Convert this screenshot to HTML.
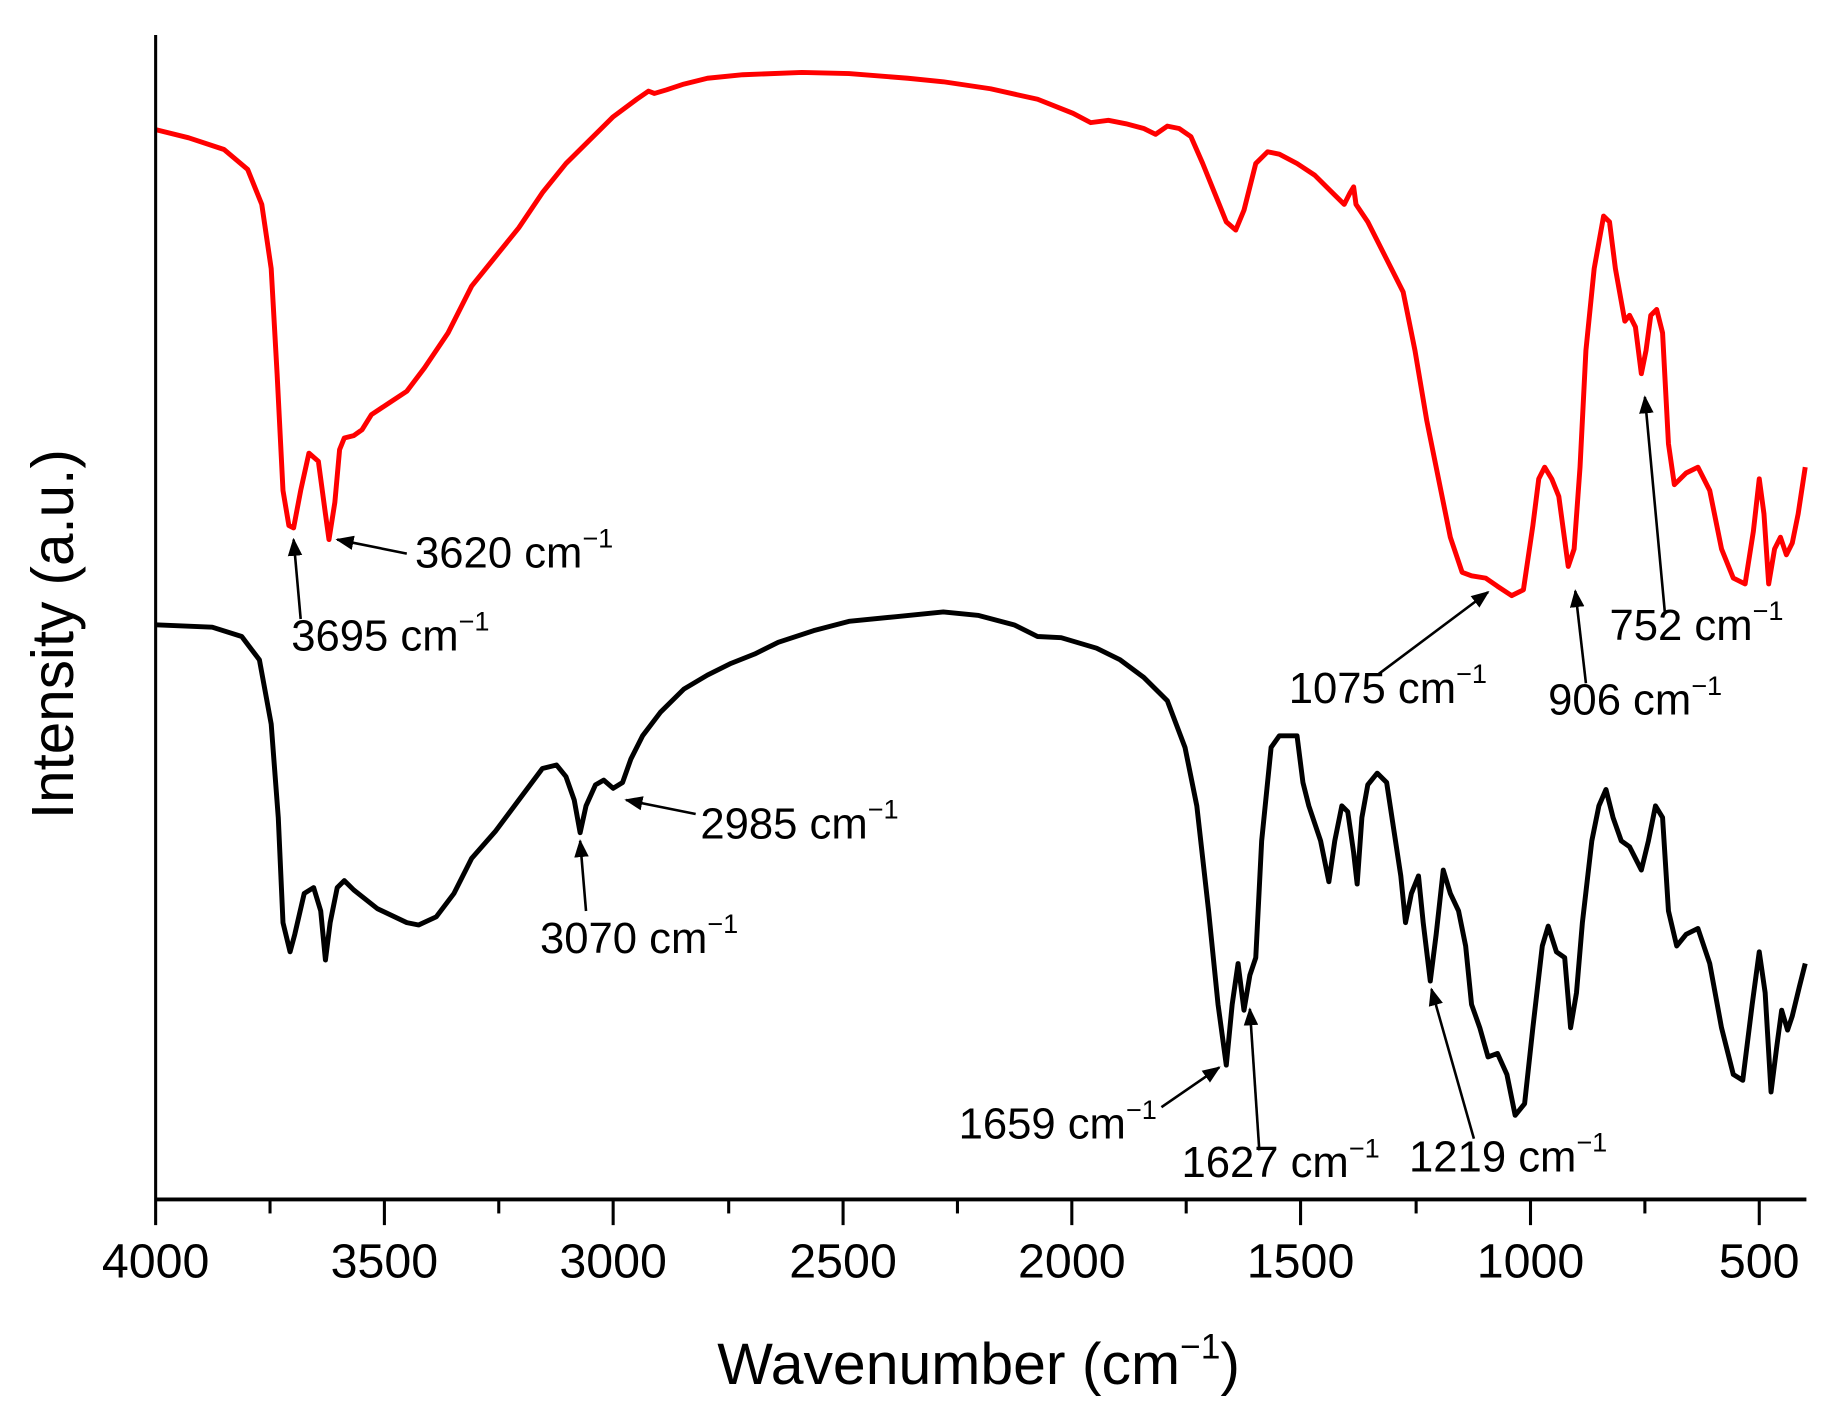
<!DOCTYPE html>
<html><head><meta charset="utf-8"><style>html,body{margin:0;padding:0;background:#fff}svg{display:block}</style></head>
<body>
<svg width="1830" height="1419" viewBox="0 0 1552 1215" preserveAspectRatio="none" xmlns="http://www.w3.org/2000/svg" font-family="Liberation Sans, Arial, sans-serif">
<defs><marker id="ah" viewBox="0 0 10 10" refX="9" refY="5" markerWidth="7" markerHeight="7" orient="auto"><path d="M0,1 L10,5 L0,9 z" fill="#000"/></marker></defs>
<rect width="1552" height="1215" fill="#fff"/>
<polyline fill="none" stroke="#f00" stroke-width="4.2" stroke-linejoin="round" points="132,111 160,118 190,128 210,145 222,175 230,230 235,320 240,420 245,450 249,452 255,420 262,388 270,395 276,440 279,462 284,430 288,385 292,375 300,373 307,368 315,355 330,345 345,335 360,315 380,285 400,245 420,220 440,195 460,165 480,140 500,120 520,100 540,85 550,78 555,80 565,77 580,72 600,67 630,64 680,62 720,63 770,67 800,70 840,76 880,85 910,97 925,105 940,103 955,106 970,110 980,115 990,108 1000,110 1010,117 1020,140 1030,165 1040,190 1048,197 1055,180 1065,140 1075,130 1085,132 1100,140 1115,150 1130,165 1140,175 1145,165 1148,160 1150,175 1160,190 1175,220 1190,250 1200,300 1210,360 1220,410 1230,460 1240,490 1248,493 1260,495 1270,502 1282,510 1292,505 1300,450 1305,410 1310,400 1316,410 1322,425 1330,485 1335,470 1340,400 1345,300 1352,230 1360,185 1365,190 1370,230 1378,275 1382,270 1387,280 1392,320 1396,300 1400,270 1405,265 1410,285 1415,380 1420,415 1430,405 1440,400 1450,420 1460,470 1470,495 1480,500 1487,455 1492,410 1496,440 1500,500 1505,470 1510,460 1515,475 1520,465 1525,440 1531,400"/>
<polyline fill="none" stroke="#000" stroke-width="4.2" stroke-linejoin="round" points="132,535 180,537 205,545 220,565 230,620 236,700 240,790 246,815 250,800 258,765 266,760 272,780 276,822 280,790 286,760 292,754 300,762 320,778 345,790 355,792 370,785 385,765 400,735 420,712 440,685 460,658 472,655 480,665 487,685 492,713 497,690 505,672 512,668 520,675 528,670 535,650 545,630 560,610 580,590 600,578 620,568 640,560 660,550 690,540 720,532 760,528 800,524 830,527 860,535 880,545 900,546 930,555 950,565 970,580 990,600 1005,640 1015,690 1025,780 1033,860 1040,912 1045,860 1050,825 1055,865 1060,835 1065,820 1070,720 1078,640 1085,630 1100,630 1105,670 1110,690 1120,720 1127,755 1132,720 1138,690 1143,695 1148,730 1151,757 1155,700 1160,672 1168,662 1176,670 1182,710 1188,750 1192,790 1197,765 1203,750 1207,790 1213,840 1218,800 1224,745 1230,765 1237,780 1243,810 1248,860 1255,880 1262,905 1270,902 1278,920 1285,955 1293,945 1300,880 1308,810 1313,793 1320,815 1327,820 1332,880 1337,850 1342,790 1350,720 1356,690 1362,676 1368,700 1375,720 1382,725 1387,735 1392,745 1398,720 1404,690 1410,700 1415,780 1422,810 1430,800 1440,795 1450,825 1460,880 1470,920 1478,925 1486,860 1492,815 1497,850 1502,935 1507,895 1511,865 1516,882 1520,870 1526,845 1531,825"/>
<g stroke="#000" stroke-width="2.6">
<line x1="132" y1="30" x2="132" y2="1049"/>
<line x1="131" y1="1027" x2="1532" y2="1027" stroke-width="3.4"/>
<line x1="229" y1="1027" x2="229" y2="1039"/><line x1="423" y1="1027" x2="423" y2="1039"/><line x1="618" y1="1027" x2="618" y2="1039"/><line x1="812" y1="1027" x2="812" y2="1039"/><line x1="1006" y1="1027" x2="1006" y2="1039"/><line x1="1201" y1="1027" x2="1201" y2="1039"/><line x1="1395" y1="1027" x2="1395" y2="1039"/>
<line x1="326" y1="1027" x2="326" y2="1049"/><line x1="520" y1="1027" x2="520" y2="1049"/><line x1="715" y1="1027" x2="715" y2="1049"/><line x1="909" y1="1027" x2="909" y2="1049"/><line x1="1103" y1="1027" x2="1103" y2="1049"/><line x1="1298" y1="1027" x2="1298" y2="1049"/><line x1="1492" y1="1027" x2="1492" y2="1049"/>
</g>
<g font-size="41" text-anchor="middle" fill="#000">
<text x="132" y="1094">4000</text><text x="326" y="1094">3500</text><text x="520" y="1094">3000</text><text x="715" y="1094">2500</text><text x="909" y="1094">2000</text><text x="1103" y="1094">1500</text><text x="1298" y="1094">1000</text><text x="1492" y="1094">500</text>
</g>
<text x="830" y="1185" font-size="50" text-anchor="middle">Wavenumber (cm<tspan font-size="30" dy="-22">−1</tspan><tspan dy="22">)</tspan></text>
<text transform="translate(62,543) rotate(-90)" font-size="50" text-anchor="middle">Intensity (a.u.)</text>
<g stroke="#000" stroke-width="2.2" marker-end="url(#ah)">
<line x1="255" y1="530" x2="249" y2="462"/>
<line x1="345" y1="474" x2="286" y2="462"/>
<line x1="1168" y1="578" x2="1262" y2="507"/>
<line x1="1345" y1="585" x2="1336" y2="506"/>
<line x1="1412" y1="525" x2="1395" y2="340"/>
<line x1="590" y1="697" x2="531" y2="685"/>
<line x1="497" y1="780" x2="492" y2="720"/>
<line x1="985" y1="948" x2="1034" y2="914"/>
<line x1="1068" y1="985" x2="1060" y2="864"/>
<line x1="1250" y1="975" x2="1214" y2="847"/>
</g>
<g font-size="37" fill="#000">
<text x="247" y="557">3695 cm<tspan font-size="23" dy="-17">−1</tspan></text>
<text x="352" y="486">3620 cm<tspan font-size="23" dy="-17">−1</tspan></text>
<text x="1093" y="602">1075 cm<tspan font-size="23" dy="-17">−1</tspan></text>
<text x="1313" y="612">906 cm<tspan font-size="23" dy="-17">−1</tspan></text>
<text x="1365" y="548">752 cm<tspan font-size="23" dy="-17">−1</tspan></text>
<text x="594" y="718">2985 cm<tspan font-size="23" dy="-17">−1</tspan></text>
<text x="458" y="816">3070 cm<tspan font-size="23" dy="-17">−1</tspan></text>
<text x="813" y="975">1659 cm<tspan font-size="23" dy="-17">−1</tspan></text>
<text x="1002" y="1008">1627 cm<tspan font-size="23" dy="-17">−1</tspan></text>
<text x="1195" y="1003">1219 cm<tspan font-size="23" dy="-17">−1</tspan></text>
</g>
</svg>
</body></html>
